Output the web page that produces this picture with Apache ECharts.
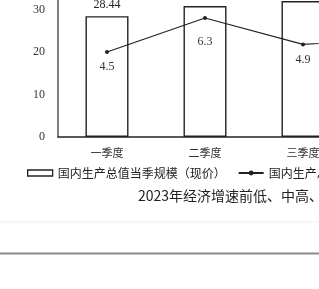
<!DOCTYPE html>
<html><head><meta charset="utf-8">
<script src="https://cdn.jsdelivr.net/npm/echarts@6/dist/echarts.min.js"></script>
<style>html,body{margin:0;padding:0;background:#fff}#c{width:319px;height:289px}</style>
</head><body><div id="c"></div>
<script>
const categories = ['一季度', '二季度', '三季度', '四季度'];
const gdpScale = [28.44, 30.80, 31.99, 34.42];
const gdpGrowth = [4.5, 6.3, 4.9, 5.2];
const barName = '国内生产总值当季规模（现价）';
const lineName = '国内生产总值当季增速（%）';
const titleText = '2023年经济增速前低、中高、后稳';

const serif = '"Liberation Serif","DejaVu Serif",serif';
const cjk = '"Noto Sans CJK SC",sans-serif';

const chart = echarts.init(document.getElementById('c'));
chart.setOption({
  animation: false,
  backgroundColor: '#fff',
  grid: {left: 58, right: -131, top: -33, bottom: 152, outerBoundsMode: 'none', containLabel: false},
  xAxis: {
    type: 'category', data: categories,
    axisLine: {lineStyle: {color: '#222', width: 1.5}},
    axisTick: {show: false},
    axisLabel: {fontFamily: cjk, fontSize: 11, color: '#333', margin: 10}
  },
  yAxis: [{
    type: 'value', min: 0, max: 40, interval: 10,
    axisLine: {show: true, lineStyle: {color: '#555', width: 1.5}},
    axisTick: {show: false},
    splitLine: {show: false},
    axisLabel: {fontFamily: serif, fontSize: 12, color: '#333', margin: 13}
  }, {
    type: 'value', min: 0, max: 9, interval: 1,
    axisLine: {show: false}, axisTick: {show: false},
    splitLine: {show: false}, axisLabel: {show: false}
  }],
  legend: {
    left: 22, top: 162, width: 800, itemWidth: 25, itemHeight: 6, itemGap: 12,
    textStyle: {fontFamily: cjk, fontSize: 12, color: '#222'},
    data: [
      {name: barName, icon: 'rect', itemStyle: {color: '#fff', borderColor: '#222', borderWidth: 1.3}},
      {name: lineName}
    ]
  },
  series: [{
    name: barName, type: 'bar', data: gdpScale, barWidth: 43,
    itemStyle: {color: '#fff', borderColor: '#222', borderWidth: 1.4},
    label: {show: true, position: 'top', distance: 5, fontFamily: serif, fontSize: 12, color: '#222'}
  }, {
    name: lineName, type: 'line', yAxisIndex: 1,
    data: gdpGrowth.map((v, i) => i === 1 ? {value: v, label: {distance: 16}} : v),
    symbol: 'circle', symbolSize: 4,
    lineStyle: {color: '#222', width: 1.2},
    itemStyle: {color: '#222'},
    label: {show: true, position: 'bottom', distance: 7, fontFamily: serif, fontSize: 12, color: '#333'}
  }],
  graphic: [
    {type: 'text', left: 138, top: 189, style: {text: titleText, font: '14px "Noto Sans CJK SC",sans-serif', fill: '#222'}},
    {type: 'line', shape: {x1: 0, y1: 222, x2: 319, y2: 222}, style: {stroke: '#eeeeee', lineWidth: 1}},
    {type: 'line', shape: {x1: 0, y1: 253.5, x2: 319, y2: 253.5}, style: {stroke: '#8a8a8a', lineWidth: 2}}
  ]
});
</script></body></html>
